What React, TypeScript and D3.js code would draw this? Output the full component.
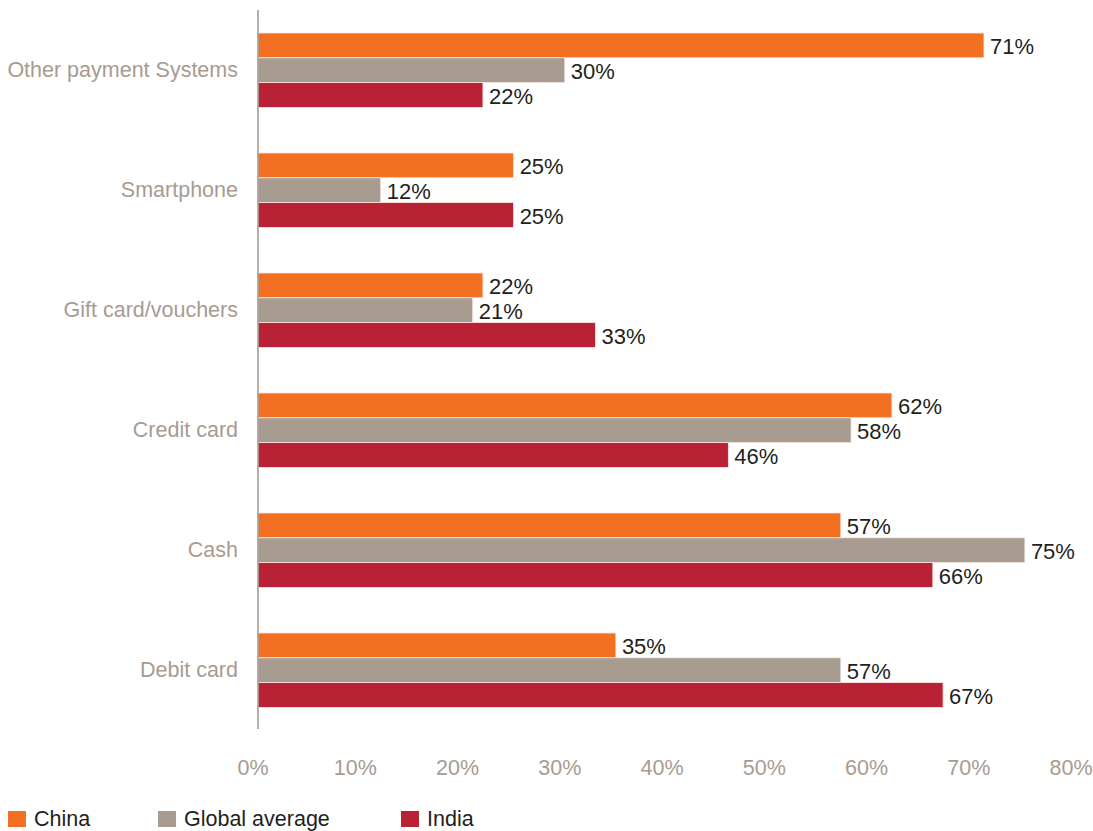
import { useMemo } from "react";
import * as d3 from "d3";

const WIDTH = 1093;
const HEIGHT = 831;

const categories = [
  "Other payment Systems",
  "Smartphone",
  "Gift card/vouchers",
  "Credit card",
  "Cash",
  "Debit card",
];

const seriesNames = ["China", "Global average", "India"];
const seriesColors = ["#f36f21", "#a89b90", "#b92234"];

const china = [71, 25, 22, 62, 57, 35];
const globalAverage = [30, 12, 21, 58, 75, 57];
const india = [22, 25, 33, 46, 66, 67];

const tickValues = [0, 10, 20, 30, 40, 50, 60, 70, 80];

const FONT = "'Liberation Sans', Arial, Helvetica, sans-serif";
const LABEL_GREY = "#a89b91";
const TEXT_DARK = "#231f20";

export default function App() {
  const seriesValues = [china, globalAverage, india];

  const x = useMemo(() => d3.scaleLinear().domain([0, 80]).range([258, 1076]), []);
  const y = useMemo(
    () => d3.scaleBand<string>().domain(categories).range([33, 707.4]).paddingInner(0.38).paddingOuter(0),
    [],
  );
  const inner = useMemo(
    () => d3.scaleBand<string>().domain(seriesNames).range([0, y.bandwidth()]).padding(0),
    [y],
  );

  return (
    <svg
      width={WIDTH}
      height={HEIGHT}
      style={{ position: "absolute", left: 0, top: 0, background: "#fff" }}
      fontFamily={FONT}
    >
      {categories.map((cat, ci) => {
        const y0 = y(cat) ?? 0;
        return (
          <g key={cat}>
            <text
              x={238}
              y={y0 + y.bandwidth() / 2}
              textAnchor="end"
              dominantBaseline="central"
              fontSize={21.5}
              fill={LABEL_GREY}
            >
              {cat}
            </text>
            {seriesNames.map((s, si) => {
              const v = seriesValues[si][ci];
              const by = y0 + (inner(s) ?? 0);
              return (
                <g key={s}>
                  <rect
                    x={x(0)}
                    y={by}
                    width={x(v) - x(0)}
                    height={inner.bandwidth()}
                    fill={seriesColors[si]}
                    stroke="#fbe9e3"
                    strokeWidth={0.8}
                  />
                  <text
                    x={x(v) + 6}
                    y={by + inner.bandwidth() / 2 + 1}
                    dominantBaseline="central"
                    fontSize={22}
                    fill={TEXT_DARK}
                  >
                    {`${v}%`}
                  </text>
                </g>
              );
            })}
          </g>
        );
      })}

      <line x1={x(0)} x2={x(0)} y1={10} y2={729} stroke={LABEL_GREY} strokeWidth={1.6} />

      {tickValues.map((t) => (
        <text
          key={t}
          x={x(t) - 5}
          y={768}
          textAnchor="middle"
          dominantBaseline="central"
          fontSize={21.5}
          fill={LABEL_GREY}
        >
          {`${t}%`}
        </text>
      ))}

      {seriesNames.map((s, i) => {
        const lx = [8, 158, 401][i];
        return (
          <g key={s}>
            <rect x={lx} y={811} width={18} height={16} fill={seriesColors[i]} />
            <text x={lx + 26} y={819} dominantBaseline="central" fontSize={21.5} fill={TEXT_DARK}>
              {s}
            </text>
          </g>
        );
      })}
    </svg>
  );
}
